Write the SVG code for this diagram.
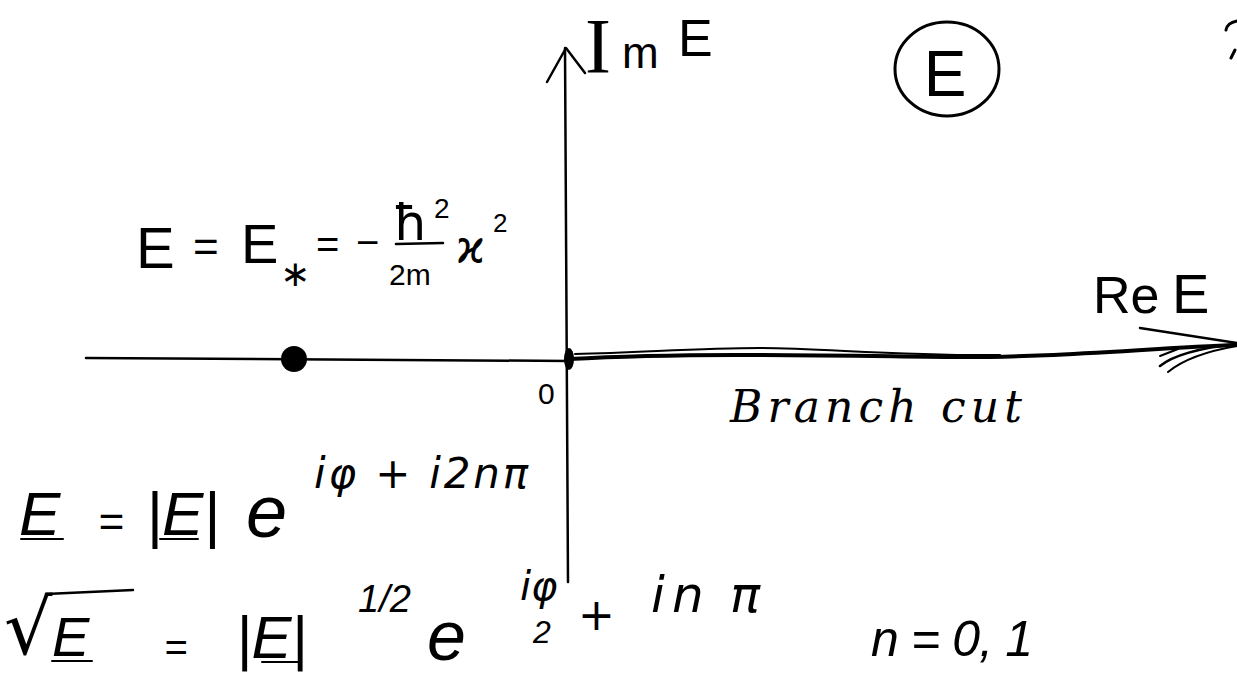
<svg xmlns="http://www.w3.org/2000/svg" width="1237" height="675" viewBox="0 0 1237 675">
<style>
.ink{fill:none;stroke:#000;stroke-linecap:round;stroke-linejoin:round}
.up{font-family:"Liberation Sans","DejaVu Sans",sans-serif;fill:#000}
.it{font-family:"Liberation Sans","DejaVu Sans",sans-serif;font-style:italic;fill:#000}
.gr{font-family:"DejaVu Sans",sans-serif;fill:#000}
.gi{font-family:"DejaVu Sans",sans-serif;font-style:italic;fill:#000}
.ser{font-family:"Liberation Serif","DejaVu Serif",serif;fill:#000}
.cur{font-family:"DejaVu Serif","Liberation Serif",serif;font-style:italic;fill:#000}
</style>
<rect width="1237" height="675" fill="#fff"/>
<g id="connectors">
  <path class="ink" stroke-width="2.5" d="M86,358 L569,361"/>
  <path class="ink" stroke-width="2.5" d="M565,48 L568,582"/>
  <path class="ink" stroke-width="2.5" d="M547,82 L566,48 L585,73"/>
  <path class="ink" stroke-width="4" d="M569,359 C700,352 850,356 950,357 S1150,348 1237,345"/>
  <path class="ink" stroke-width="2" d="M575,354 C650,352 700,348 760,348 S900,356 1000,355"/>
  <path class="ink" stroke-width="2.5" d="M1140,328 L1237,343"/>
  <path class="ink" stroke-width="2.5" d="M1160,366 Q1180,350 1237,344"/>
  <path class="ink" stroke-width="2" d="M1168,372 Q1190,354 1237,346"/>
  <path class="ink" stroke-width="2" d="M1160,356 L1178,349"/>
</g>
<g id="points">
  <circle cx="294" cy="359" r="13" fill="#000"/>
  <ellipse cx="569" cy="359" rx="5" ry="11" fill="#000"/>
</g>
<g id="label-ImE">
  <text class="ser" x="585" y="72" font-size="78">I</text>
  <text class="up" x="622" y="68" font-size="44">m</text>
  <text class="up" x="678" y="56" font-size="52">E</text>
</g>
<g id="node-E-circle">
  <ellipse class="ink" stroke-width="3" cx="947" cy="69" rx="52" ry="47"/>
  <text class="up" x="945" y="96" font-size="64" text-anchor="middle">E</text>
</g>
<g id="label-ReE">
  <text class="up" x="1093" y="313" font-size="52">Re</text>
  <text class="up" x="1172" y="313" font-size="56">E</text>
</g>
<g id="label-bound-state">
  <text class="up" x="136" y="268" font-size="58">E</text>
  <text class="up" x="193" y="262" font-size="44">=</text>
  <text class="up" x="241" y="263" font-size="56">E</text>
  <text class="up" x="280" y="286" font-size="36">∗</text>
  <text class="up" x="316" y="258" font-size="40">=</text>
  <text class="up" x="356" y="256" font-size="40">−</text>
  <text class="gr" x="393" y="240" font-size="50">ħ</text>
  <text class="up" x="434" y="218" font-size="28">2</text>
  <path class="ink" stroke-width="2.5" d="M396,244 L443,243"/>
  <text class="up" x="389" y="285" font-size="30">2m</text>
  <text class="gr" x="456" y="262" font-size="44">ϰ</text>
  <text class="up" x="493" y="232" font-size="26">2</text>
</g>
<g id="label-origin">
  <text class="up" x="538" y="404" font-size="30">0</text>
</g>
<g id="label-branch-cut">
  <text class="cur" x="730" y="422" font-size="44" textLength="292" lengthAdjust="spacing">Branch cut</text>
</g>
<g id="formula-polar">
  <text class="it" x="19" y="535" font-size="62">E</text>
  <path class="ink" stroke-width="2" d="M21,539 L63,539"/>
  <text class="it" x="98" y="537" font-size="44">=</text>
  <text class="it" x="146" y="535" font-size="62">|E|</text>
  <path class="ink" stroke-width="2" d="M160,539 L198,539"/>
  <text class="it" x="246" y="537" font-size="74">e</text>
  <text class="gi" x="314" y="488" font-size="42" textLength="214" lengthAdjust="spacing">iφ + i2nπ</text>
</g>
<g id="formula-sqrt">
  <text class="gr" x="4" y="654" font-size="76">√</text>
  <path class="ink" stroke-width="2.5" d="M46,594 L133,590"/>
  <text class="it" x="52" y="656" font-size="56">E</text>
  <path class="ink" stroke-width="2" d="M52,661 L92,661"/>
  <text class="it" x="164" y="661" font-size="40">=</text>
  <text class="it" x="236" y="658" font-size="60">|E|</text>
  <path class="ink" stroke-width="2" d="M262,662 L300,662"/>
  <text class="it" x="358" y="612" font-size="38">1/2</text>
  <text class="it" x="427" y="660" font-size="70">e</text>
  <text class="gi" x="520" y="600" font-size="40">iφ</text>
  <text class="it" x="533" y="643" font-size="32">2</text>
  <text class="gi" x="578" y="630" font-size="44">+</text>
  <text class="gi" x="651" y="612" font-size="50">i<tspan x="672">n</tspan><tspan x="730">π</tspan></text>
  <text class="it" x="871" y="656" font-size="50" textLength="162" lengthAdjust="spacing">n = 0, 1</text>
</g>
<g id="corner-mark">
  <path class="ink" stroke-width="3" d="M1226,30 Q1227,23 1237,21"/>
  <path class="ink" stroke-width="3" d="M1231,58 L1235,50"/>
</g>
</svg>
